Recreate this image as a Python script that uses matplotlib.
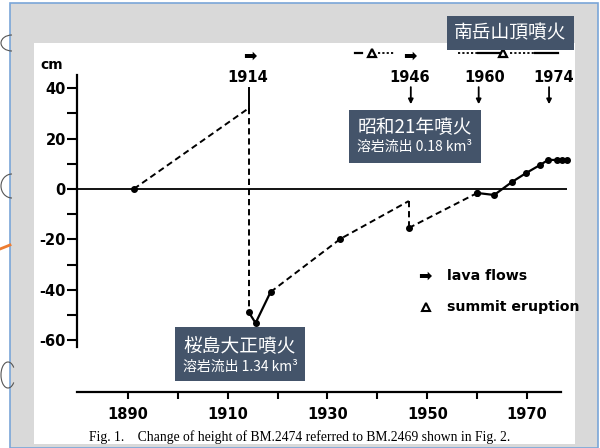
import matplotlib.pyplot as plt
from matplotlib.patches import Rectangle, Arc

W, H = 600, 448

# height change of BM.2474 (cm)
pre_years = [1891.2, 1914.2]
pre_cm = [0, 32]
drop14_cm = [32, -48.8]
taisho_years = [1914.2, 1915.6, 1918.6]
taisho_cm = [-48.8, -53.2, -40.9]
mid_years = [1918.6, 1932.6, 1946.3]
mid_cm = [-40.9, -19.8, -4.8]
drop46_cm = [-4.8, -15.5]
post_years = [1946.3, 1960.0]
post_cm = [-15.5, -1.6]
late_years = [1960.0, 1963.4, 1967.0, 1969.8, 1972.6, 1974.2, 1976.0, 1977.0, 1978.0]
late_cm = [-1.6, -2.4, 2.8, 6.3, 9.5, 11.5, 11.5, 11.5, 11.5]

event_labels = ['1914', '1946', '1960', '1974']
event_label_x = [1914.0, 1946.5, 1961.6, 1975.3]
arrow_years = [1946.7, 1960.3, 1974.4]
lava_years = [1914.4, 1946.5]
summit_years = [1938.9, 1965.1]
activity_dotted = [(1940.1, 1943.5), (1956.1, 1960.1), (1966.5, 1971.6)]
activity_solid = [(1935.5, 1936.9), (1960.1, 1964.5), (1971.6, 1976.2)]

y_major = [-60, -40, -20, 0, 20, 40]
y_minor = [-50, -30, -10, 10, 30]
x_ticks = [1890, 1900, 1910, 1920, 1930, 1940, 1950, 1960, 1970]
x_labels = ['1890', '', '1910', '', '1930', '', '1950', '', '1970']


def fx(px):
    return px / W


def fy(py):
    return 1 - py / H


fig = plt.figure(figsize=(6, 4.48), dpi=100)
fig.patch.set_facecolor('white')

# slide background
fig.add_artist(Rectangle((fx(10), 0), fx(588), fy(3), transform=fig.transFigure,
                         facecolor='#d9d9d9', edgecolor='#7aa6d8', lw=1.2, zorder=-5))
# sketch scraps on the left of the slide
fig.add_artist(Arc((fx(12), fy(43)), fx(22), 16 / H, theta1=90, theta2=270,
                   transform=fig.transFigure, color='#555555', lw=0.8))
fig.add_artist(Arc((fx(12), fy(186)), fx(22), 24 / H, theta1=90, theta2=270,
                   transform=fig.transFigure, color='#555555', lw=0.8))
fig.add_artist(Arc((fx(8), fy(375)), fx(14), 26 / H, theta1=60, theta2=300,
                   transform=fig.transFigure, color='#555555', lw=0.8))
fig.add_artist(plt.Line2D([0, fx(10)], [fy(249), fy(245)], transform=fig.transFigure,
                          color='#ed7d31', lw=2))

ax = fig.add_axes([fx(34), 4 / H, fx(541), 401 / H])
ax.set_facecolor('white')
ax.set_xlim(1871.2, 1979.6)
ax.set_ylim(-101.2, 57.9)

for s in ['top', 'right']:
    ax.spines[s].set_visible(False)
ax.spines['left'].set_position(('data', 1879.8))
ax.spines['left'].set_bounds(-62.7, 45.2)
ax.spines['bottom'].set_position(('data', -80.6))
ax.spines['bottom'].set_bounds(1879.8, 1976.8)
for s in ['left', 'bottom']:
    ax.spines[s].set_linewidth(1.6)

ax.set_yticks(y_major)
ax.set_yticklabels([str(v) for v in y_major], fontweight='bold', fontsize=10.5)
ax.set_yticks(y_minor, minor=True)
ax.tick_params(axis='y', which='both', direction='out', length=7, width=1.5, pad=1)
ax.set_xticks(x_ticks)
ax.set_xticklabels(x_labels, fontweight='bold', fontsize=10.5)
ax.tick_params(axis='x', direction='out', length=5, width=1.5, pad=6)

ax.hlines(0, 1879.8, 1978.0, color='black', lw=1.3)
ax.text(1874.8, 49.2, 'cm', fontweight='bold', fontsize=10, ha='center', va='center')

dash = dict(color='black', lw=1.4, dashes=(3.2, 2.0))
solid = dict(color='black', lw=1.6)
ax.plot(pre_years, pre_cm, **dash)
ax.plot([pre_years[-1]] * 2, drop14_cm, **dash)
ax.plot(taisho_years, taisho_cm, **solid)
ax.plot(mid_years, mid_cm, **dash)
ax.plot([mid_years[-1]] * 2, drop46_cm, **dash)
ax.plot(post_years, post_cm, **dash)
ax.plot(late_years, late_cm, **solid)

dot = dict(ls='none', marker='o', ms=4, color='black')
ax.plot(pre_years[:1], pre_cm[:1], **dot)
ax.plot(taisho_years, taisho_cm, **dot)
ax.plot(mid_years[1:2], mid_cm[1:2], **dot)
ax.plot(post_years, post_cm, **dot)
ax.plot(late_years, late_cm, **dot)

# event markers above the plot
ax.plot([pre_years[-1]] * 2, [40.1, 31], color='black', lw=1.4)
for lab, x in zip(event_labels, event_label_x):
    ax.text(x, 44.2, lab, fontweight='bold', fontsize=10.5, ha='center', va='center')
for x in arrow_years:
    ax.annotate('', xy=(x, 33.6), xytext=(x, 40.4),
                arrowprops=dict(arrowstyle='-|>', color='black', lw=1.3,
                                mutation_scale=7, shrinkA=0, shrinkB=0))
for x in lava_years:
    ax.text(x, 52.8, '➡', fontsize=11.5, ha='center', va='center', fontweight='bold')
for a, b in activity_dotted:
    ax.plot([a, b], [54, 54], color='black', lw=1.3, dashes=(1.2, 1.2), clip_on=False)
for a, b in activity_solid:
    ax.plot([a, b], [54, 54], color='black', lw=1.6, clip_on=False)
ax.plot(summit_years, [54, 54], ls='none', marker='^', ms=6, mfc='white',
        mec='black', mew=1.6, clip_on=False, zorder=4)

# legend
ax.text(1949.5, -34.5, '➡', fontsize=11.5, ha='center', va='center', fontweight='bold')
ax.text(1954.0, -34.5, 'lava flows', fontsize=10.2, fontweight='bold', va='center')
ax.plot([1949.7], [-46.8], ls='none', marker='^', ms=5.5, mfc='white', mec='black', mew=1.5)
ax.text(1954.0, -46.8, 'summit eruption', fontsize=10.2, fontweight='bold', va='center',
        clip_on=False)

fig.text(fx(300), fy(437), 'Fig. 1.    Change of height of BM.2474 referred to BM.2469 shown in Fig. 2.',
         family='Liberation Serif', fontsize=9.8, ha='center', va='center')

# annotation boxes on the slide
jp = ['Noto Sans CJK JP', 'DejaVu Sans']
box_c = '#44546a'
fig.add_artist(Rectangle((fx(447), fy(50)), fx(127), 34 / H, transform=fig.transFigure,
                         facecolor=box_c, edgecolor='none', zorder=5))
fig.text(fx(510), fy(33), '南岳山頂噴火', family=jp, fontsize=13.5, color='white',
         ha='center', va='center', zorder=6)

fig.add_artist(Rectangle((fx(349), fy(163)), fx(132), 53 / H, transform=fig.transFigure,
                         facecolor=box_c, edgecolor='none', zorder=5))
fig.text(fx(415), fy(128), '昭和21年噴火', family=jp, fontsize=13.5, color='white',
         ha='center', va='center', zorder=6)
fig.text(fx(415), fy(147), '溶岩流出 0.18 km³', family=jp, fontsize=10, color='white',
         ha='center', va='center', zorder=6)

fig.add_artist(Rectangle((fx(175), fy(381)), fx(130), 54 / H, transform=fig.transFigure,
                         facecolor=box_c, edgecolor='none', zorder=5))
fig.text(fx(240), fy(347), '桜島大正噴火', family=jp, fontsize=13.5, color='white',
         ha='center', va='center', zorder=6)
fig.text(fx(240), fy(367), '溶岩流出 1.34 km³', family=jp, fontsize=10, color='white',
         ha='center', va='center', zorder=6)

fig.savefig('out.png', dpi=100)
